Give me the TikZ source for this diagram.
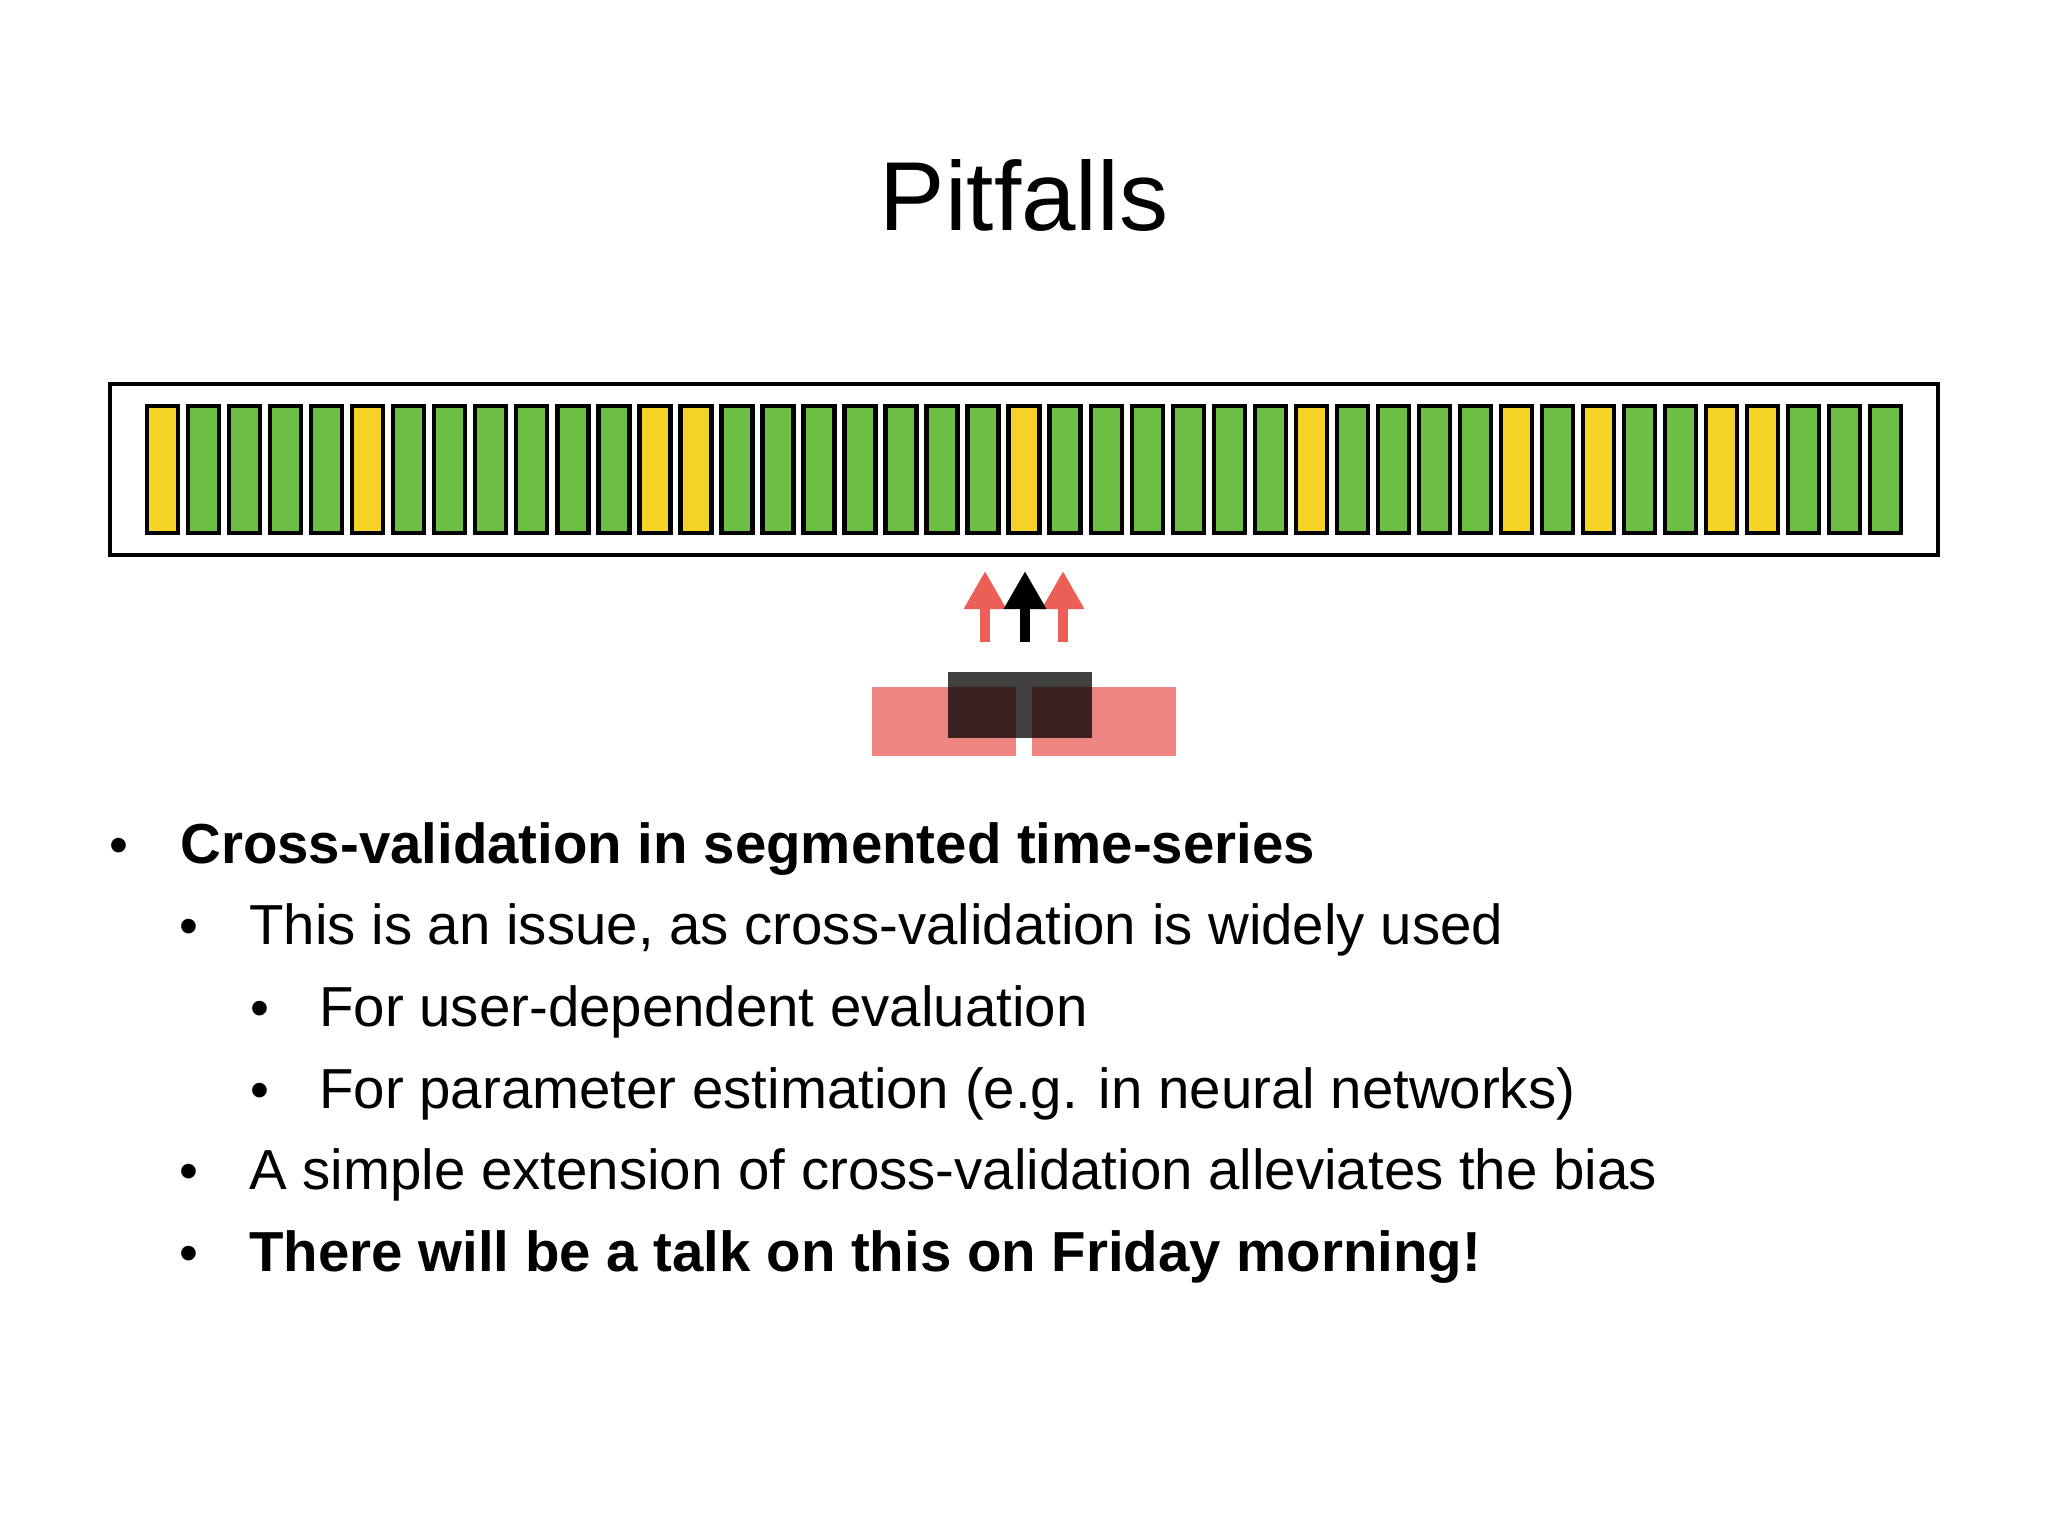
\documentclass[tikz,border=0pt]{standalone}
\usepackage{fontspec}
\setmainfont{Liberation Sans}
\usetikzlibrary{arrows.meta}
\definecolor{barG}{HTML}{6DBE45}
\definecolor{barY}{HTML}{F5D327}
\definecolor{redA}{HTML}{EC5F57}
\definecolor{pinkR}{HTML}{EE8580}
\begin{document}
\begin{tikzpicture}[x=0.5pt,y=-0.5pt,
  txt/.style={anchor=base west,inner sep=0pt,font=\fontsize{28.2}{30}\selectfont},
  bul/.style={anchor=base,inner sep=0pt,font=\fontsize{27}{30}\selectfont},
  bar/.style={draw=black,line width=2.2pt},
  uparrow/.style={line width=5pt,-{Triangle[width=20pt,length=19pt]}}]
\useasboundingbox (0,0) rectangle (2048,1536);
\fill[white] (0,0) rectangle (2048,1536);
\node[anchor=base,inner sep=0pt,font=\fontsize{49}{52}\selectfont] (title) at (1024,230) {Pitfalls};
\draw[line width=2pt] (110,384) rectangle (1938,555);
\foreach \c [count=\i from 0] in {Y,G,G,G,G,Y,G,G,G,G,G,G,Y,Y,G,G,G,G,G,G,G,Y,G,G,G,G,G,G,Y,G,G,G,G,Y,G,Y,G,G,Y,Y,G,G,G}{
  \draw[bar,fill=bar\c] ({147+\i*41.03},406) rectangle ({147+\i*41.03+31},533);
}
\coordinate (a1s) at (985,642); \coordinate (a1e) at (985,571);
\coordinate (a2s) at (1025,642); \coordinate (a2e) at (1025,571);
\coordinate (a3s) at (1063,642); \coordinate (a3e) at (1063,571);
\draw[uparrow,redA] (a1s) -- (a1e);
\draw[uparrow,redA] (a3s) -- (a3e);
\draw[uparrow,black] (a2s) -- (a2e);
\fill[pinkR] (872,687) rectangle (1016,756);
\fill[pinkR] (1032,687) rectangle (1176,756);
\fill[black,opacity=0.75] (948,672) rectangle (1092,738);
\node[bul] (b1) at (119,863) {•};
\node[txt,font=\fontsize{28.2}{30}\selectfont\bfseries] (t1) at (180,863) {Cross-validation in segmented time-series};
\node[bul] (b2) at (189,944) {•};
\node[txt] (t2) at (249,944) {This is an issue, as cross-validation is widely used};
\node[bul] (b3) at (260,1026) {•};
\node[txt] (t3) at (319,1026) {For user-dependent evaluation};
\node[bul] (b4) at (260,1108) {•};
\node[txt] (t4) at (319,1108) {For parameter estimation (e.g. in neural networks)};
\node[bul] (b5) at (189,1189) {•};
\node[txt] (t5) at (249,1189) {A simple extension of cross-validation alleviates the bias};
\node[bul] (b6) at (189,1271) {•};
\node[txt,font=\fontsize{28.2}{30}\selectfont\bfseries] (t6) at (249,1271) {There will be a talk on this on Friday morning!};
\end{tikzpicture}
\end{document}
